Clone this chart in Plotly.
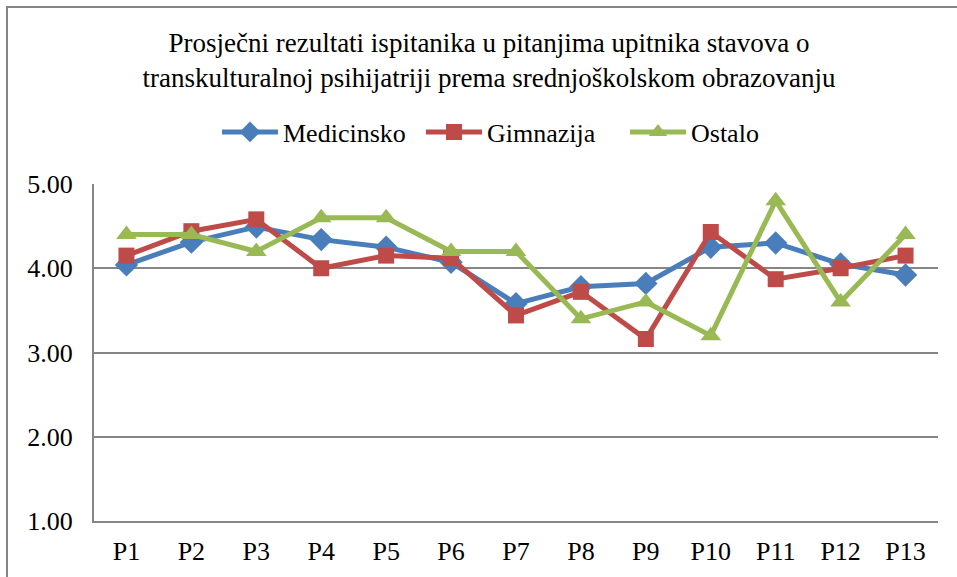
import plotly.graph_objects as go

categories = ["P1", "P2", "P3", "P4", "P5", "P6", "P7", "P8", "P9", "P10", "P11", "P12", "P13"]
medicinsko = [4.04, 4.31, 4.49, 4.34, 4.25, 4.07, 3.58, 3.78, 3.82, 4.25, 4.30, 4.05, 3.92]
gimnazija = [4.15, 4.44, 4.58, 4.00, 4.15, 4.12, 3.44, 3.72, 3.16, 4.43, 3.87, 4.00, 4.15]
ostalo = [4.40, 4.40, 4.20, 4.60, 4.60, 4.20, 4.20, 3.40, 3.60, 3.20, 4.80, 3.60, 4.40]
y_ticks = [1, 2, 3, 4, 5]
y_tick_labels = ["1.00", "2.00", "3.00", "4.00", "5.00"]

W, H = 957, 577
L, R, T, B = 94, 19, 184, 56
FONT = "Liberation Serif"

fig = go.Figure()
series = [
    ("Medicinsko", medicinsko, "#4a7ebb", "diamond", 18),
    ("Gimnazija", gimnazija, "#be4b48", "square", 16),
    ("Ostalo", ostalo, "#98b954", "triangle-up", 18),
]
for name, vals, color, sym, size in series:
    fig.add_trace(go.Scatter(
        x=categories, y=vals, name=name, mode="lines+markers",
        line=dict(color=color, width=5),
        marker=dict(symbol=sym, size=size, color=color),
    ))

pw = W - L - R
ph = H - T - B
fig.add_shape(type="rect", xref="paper", yref="paper",
              x0=(7 - L) / pw, x1=(W + 20 - L) / pw,
              y0=(H - B - (H + 20)) / ph, y1=(H - B - 7) / ph,
              line=dict(color="#868686", width=2), fillcolor="rgba(0,0,0,0)", layer="below")

fig.update_layout(
    width=W, height=H,
    margin=dict(l=L, r=R, t=T, b=B, autoexpand=False),
    paper_bgcolor="white", plot_bgcolor="white",
    font=dict(family=FONT, color="black", size=26),
    title=dict(
        text="Prosječni rezultati ispitanika u pitanjima upitnika stavova o<br>transkulturalnoj psihijatriji prema srednjoškolskom obrazovanju",
        x=489 / W, xref="container", xanchor="center",
        y=1 - 52 / H, yref="container", yanchor="middle",
        font=dict(size=27, family=FONT, color="black"),
    ),
    legend=dict(
        orientation="h", x=217 / W, xref="container", xanchor="left",
        y=1 - 132 / H, yref="container", yanchor="middle",
        font=dict(size=26, family=FONT, color="black"),
        itemwidth=56, tracegroupgap=0, entrywidth=133, entrywidthmode="pixels",
    ),
    showlegend=True,
)
fig.update_xaxes(
    type="category", range=[-0.5, 12.5],
    showgrid=False, showline=True, linecolor="#868686", linewidth=2,
    ticks="", ticklabelstandoff=6, tickfont=dict(size=26, family=FONT, color="black"),
)
fig.update_yaxes(
    range=[1, 5], tickvals=y_ticks, ticktext=y_tick_labels,
    showgrid=True, gridcolor="#868686", gridwidth=2,
    showline=True, linecolor="#868686", linewidth=2,
    zeroline=False, ticks="", ticklabelstandoff=14,
    tickfont=dict(size=26, family=FONT, color="black"),
)

fig.write_html("out.html", config={"displayModeBar": False},
               post_script="document.body.style.margin='0px';")
